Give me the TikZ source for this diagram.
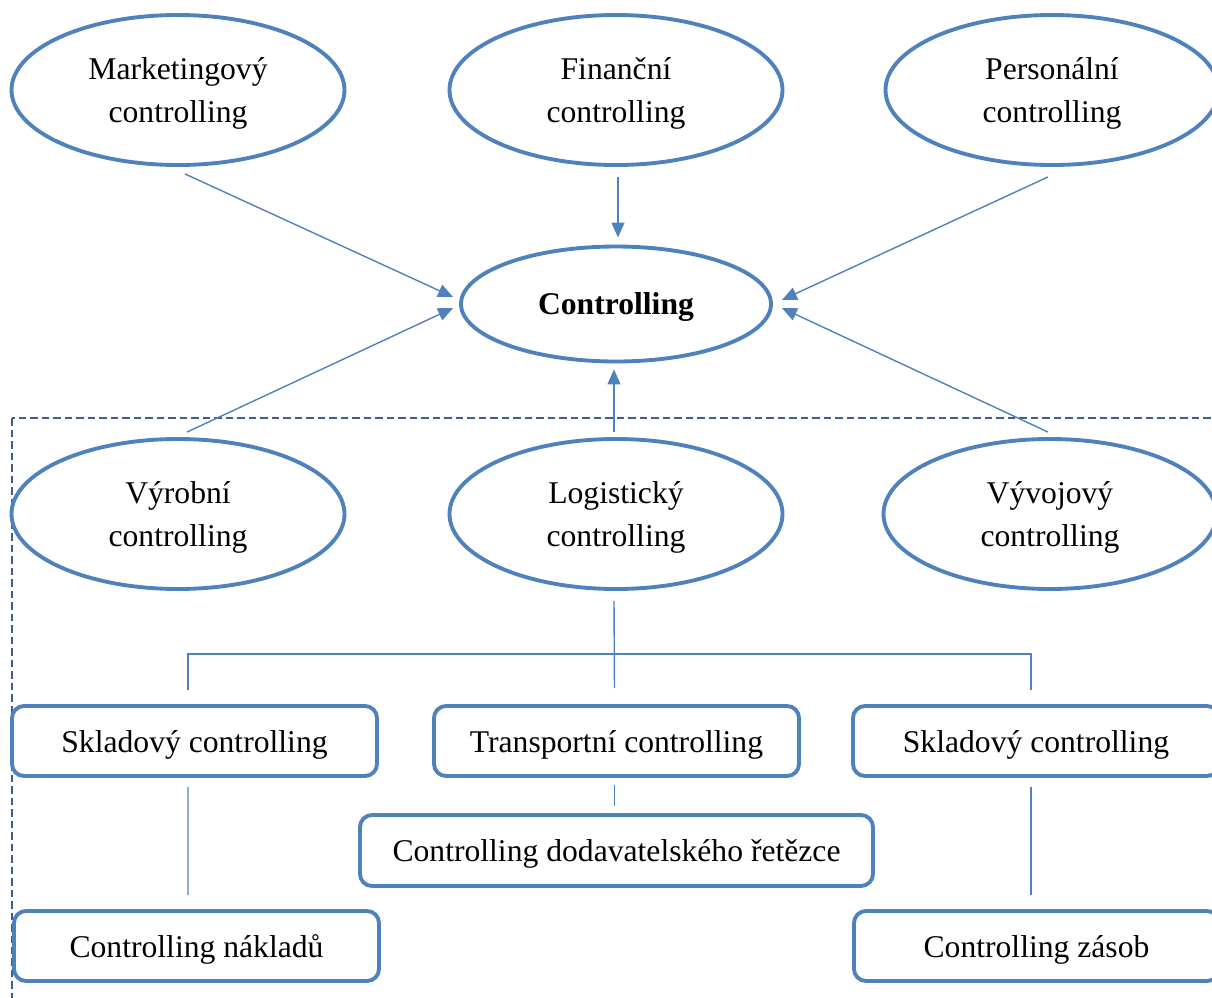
\documentclass[tikz,border=0pt]{standalone}
\usepackage{fontspec}
\setmainfont{Liberation Serif}
\usetikzlibrary{shapes.geometric,arrows.meta}
\definecolor{ctrlblue}{HTML}{4F81BD}
\definecolor{framblue}{HTML}{3A5F8F}
\tikzset{
  ellnode/.style={ellipse, draw=ctrlblue, line width=2.2pt, fill=white, align=center,
    minimum width=6.66cm, minimum height=3cm, inner sep=0pt, text depth=0pt},
  boxnode/.style={rectangle, rounded corners=0.24cm, draw=ctrlblue, line width=2.2pt,
    fill=white, minimum width=7.3cm, minimum height=1.4cm, inner sep=0pt, text depth=0pt},
  arr/.style={-{Triangle[length=0.3cm,width=0.26cm]}, ctrlblue, line width=0.8pt},
  link/.style={ctrlblue, line width=0.8pt},
  frame/.style={framblue, line width=0.8pt, dash pattern=on 0.15cm off 0.08cm}
}
\begin{document}
\begin{tikzpicture}[font=\fontsize{18}{24}\selectfont]
  \clip (0,0) rectangle (24.24,-19.94);
  %%%%%%%%%%%%%%%%%%%%%%%%%%%%%%%%%%%%%%%%%%%%%%
  %%% Dashed frame round the lower part
  %%%%%%%%%%%%%%%%%%%%%%%%%%%%%%%%%%%%%%%%%%%%%%
  \draw[frame] (0.24,-8.36) rectangle (25,-21);
  % top row of controlling areas
  \node[ellnode] (mark) at (3.56,-1.8) {Marketingový\\controlling};
  \node[ellnode] (fin) at (12.32,-1.8) {Finanční\\controlling};
  \node[ellnode] (pers) at (21.04,-1.8) {Personální\\controlling};
  % the centre
  \node[ellnode, minimum width=6.2cm, minimum height=2.3cm] (ctrl) at (12.32,-6.08) {\textbf{Controlling}};
  % bottom row of controlling areas
  \node[ellnode] (vyr) at (3.56,-10.28) {Výrobní\\controlling};
  \node[ellnode] (log) at (12.32,-10.28) {Logistický\\controlling};
  \node[ellnode] (vyv) at (21.0,-10.28) {Vývojový\\controlling};
  % arrows into the centre
  \draw[arr] ([shift={(0.14,-0.14)}]mark.south) -- ([shift={(-0.12,0.14)}]ctrl.west);
  \draw[arr] ([shift={(0.04,-0.2)}]fin.south) -- ([shift={(0.04,0.14)}]ctrl.north);
  \draw[arr] ([shift={(-0.08,-0.2)}]pers.south) -- ([shift={(0.18,0.08)}]ctrl.east);
  \draw[arr] ([shift={(0.18,0.1)}]vyr.north) -- ([shift={(-0.12,-0.08)}]ctrl.west);
  \draw[arr] ([shift={(-0.04,0.1)}]log.north) -- ([shift={(-0.04,-0.12)}]ctrl.south);
  \draw[arr] ([shift={(-0.04,0.1)}]vyv.north) -- ([shift={(0.18,-0.08)}]ctrl.east);
  %%%%%%%%%%%%%%%%%%%%%%%%%%%%%%%%%%%%%%%%%%%%%%
  %%% Parts of the logistic controlling
  %%%%%%%%%%%%%%%%%%%%%%%%%%%%%%%%%%%%%%%%%%%%%%
  \node[boxnode] (sklad1) at (3.89,-14.82) {Skladový controlling};
  \node[boxnode] (trans) at (12.33,-14.82) {Transportní controlling};
  \node[boxnode, minimum width=7.32cm] (sklad2) at (20.72,-14.82) {Skladový controlling};
  \node[boxnode, minimum width=10.26cm, minimum height=1.42cm] (dod) at (12.33,-17.01) {Controlling dodavatelského řetězce};
  \node[boxnode] (nakl) at (3.93,-18.92) {Controlling nákladů};
  \node[boxnode] (zas) at (20.73,-18.92) {Controlling zásob};
  % tree lines
  \draw[link] ([shift={(-0.04,-0.2)}]log.south) -- ([shift={(-0.04,0.32)}]trans.north);
  \draw[link] ([shift={(-0.13,0.28)}]sklad1.north) |- ([yshift=1cm]trans.north)
     -| ([shift={(-0.1,0.28)}]sklad2.north);
  \draw[link] ([shift={(-0.04,-0.14)}]trans.south) -- ([shift={(-0.04,0.14)}]dod.north);
  \draw[link] ([shift={(-0.13,-0.18)}]sklad1.south) -- ([shift={(-0.17,0.28)}]nakl.north);
  \draw[link] ([shift={(-0.1,-0.18)}]sklad2.south) -- ([shift={(-0.11,0.28)}]zas.north);
\end{tikzpicture}
\end{document}
